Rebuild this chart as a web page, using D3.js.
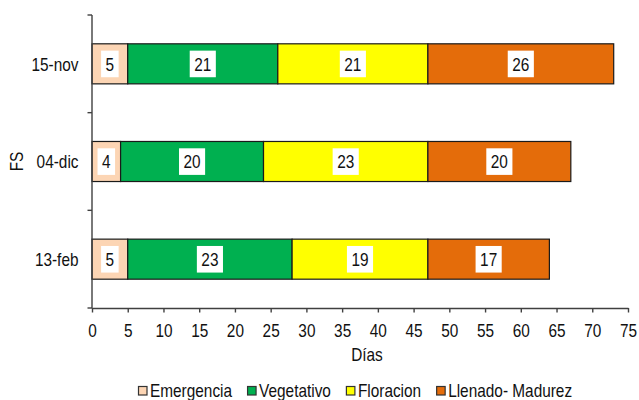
<!DOCTYPE html>
<html>
<head>
<meta charset="utf-8">
<script src="https://cdn.jsdelivr.net/npm/d3@7"></script>
<style>
  body { margin: 0; background: #fff; }
  text { font-family: Arial, "Liberation Sans", sans-serif; font-size: 18px; fill: #111; }
</style>
</head>
<body>
<script>
// data
let dates = ["15-nov", "04-dic", "13-feb"];
let stages = ["Emergencia", "Vegetativo", "Floracion", "Llenado- Madurez"];
let emergencia = [5, 4, 5];
let vegetativo = [21, 20, 23];
let floracion = [21, 23, 19];
let llenado = [26, 20, 17];
let xTicks = d3.range(0, 76, 5);
let colors = ["#FCD5B4", "#00B050", "#FFFF00", "#E46C0A"];

let width = 639;
let height = 400;
let margin = {top: 15, right: 11, bottom: 92, left: 92};
let sx = 0.855; // text in the picture is narrower than it is tall

let rows = dates.map((d, i) => ({date: d, values: [emergencia[i], vegetativo[i], floracion[i], llenado[i]]}));

let x = d3.scaleLinear()
          .domain([0, 75])
          .range([margin.left, width - margin.right]);

let y = d3.scaleBand()
          .domain(dates)
          .range([margin.top, height - margin.bottom])
          .paddingInner(0.59)
          .paddingOuter(0.295);

let color = d3.scaleOrdinal().domain(stages).range(colors);

let svg = d3.select("body")
            .append("svg")
            .attr("width", width)
            .attr("height", height);

// bars
rows.forEach(function(r) {
  let start = 0;
  r.values.forEach(function(v, j) {
    let g = svg.append("g");
    g.append("rect")
     .attr("x", x(start))
     .attr("y", y(r.date))
     .attr("width", x(start + v) - x(start))
     .attr("height", y.bandwidth())
     .attr("fill", colors[j])
     .attr("stroke", "#1a1a1a")
     .attr("stroke-width", 1.2);
    let cx = (x(start) + x(start + v)) / 2;
    let cy = y(r.date) + y.bandwidth() / 2;
    let box = g.append("rect").attr("fill", "#fff");
    let t = g.append("text")
             .attr("text-anchor", "middle")
             .attr("transform", `translate(${cx},${cy + 6.8}) scale(${sx},1)`)
             .text(v);
    let w = t.node().getComputedTextLength() * sx + 9;
    box.attr("x", cx - w / 2)
       .attr("y", cy - 13.2)
       .attr("width", w)
       .attr("height", 26.6);
    start += v;
  });
});

// x axis
let xAxis = svg.append("g")
               .attr("transform", `translate(0,${height - margin.bottom})`)
               .call(d3.axisBottom(x).tickValues(xTicks).tickSize(4.5).tickSizeOuter(0));
xAxis.selectAll("path, line").attr("stroke", "#404040").attr("stroke-width", 1.4);
xAxis.selectAll("text")
     .attr("y", 29)
     .attr("dy", 0)
     .attr("transform", `scale(${sx},1)`)
     .attr("fill", "#111")
     .style("font-size", "18px")
     .style("font-family", "Arial, 'Liberation Sans', sans-serif");

// y axis: line with ticks between categories
let bounds = d3.range(dates.length + 1).map(i => margin.top + i * y.step());
svg.append("line")
   .attr("x1", margin.left).attr("x2", margin.left)
   .attr("y1", bounds[0]).attr("y2", bounds[bounds.length - 1])
   .attr("stroke", "#404040").attr("stroke-width", 1.4);
svg.selectAll(".ytick")
   .data(bounds)
   .enter().append("line")
           .attr("class", "ytick")
           .attr("x1", margin.left - 4.5).attr("x2", margin.left)
           .attr("y1", d => d).attr("y2", d => d)
           .attr("stroke", "#404040").attr("stroke-width", 1.4);
svg.selectAll(".ylabel")
   .data(dates)
   .enter().append("text")
           .attr("class", "ylabel")
           .attr("text-anchor", "end")
           .attr("transform", d => `translate(${margin.left - 13.5},${y(d) + y.bandwidth() / 2 + 6.8}) scale(${sx},1)`)
           .text(d => d);

// axis titles
svg.append("text")
   .attr("text-anchor", "middle")
   .attr("transform", `translate(367,361) scale(${sx},1)`)
   .text("Días");
svg.append("text")
   .attr("text-anchor", "middle")
   .attr("transform", `translate(23,${(bounds[0] + bounds[bounds.length - 1]) / 2}) rotate(-90) scale(${sx},1)`)
   .text("FS");

// legend
let legend = svg.append("g");
let lx = 0;
stages.forEach(function(s) {
  legend.append("rect")
        .attr("x", lx + 0.5)
        .attr("y", 386.5)
        .attr("width", 8.5)
        .attr("height", 8.5)
        .attr("fill", color(s))
        .attr("stroke", "#333")
        .attr("stroke-width", 1.2);
  let t = legend.append("text")
                .attr("transform", `translate(${lx + 12},397) scale(${sx},1)`)
                .text(s);
  lx += 12 + t.node().getComputedTextLength() * sx + 15;
});
legend.attr("transform", `translate(${138},0)`);
</script>
</body>
</html>
